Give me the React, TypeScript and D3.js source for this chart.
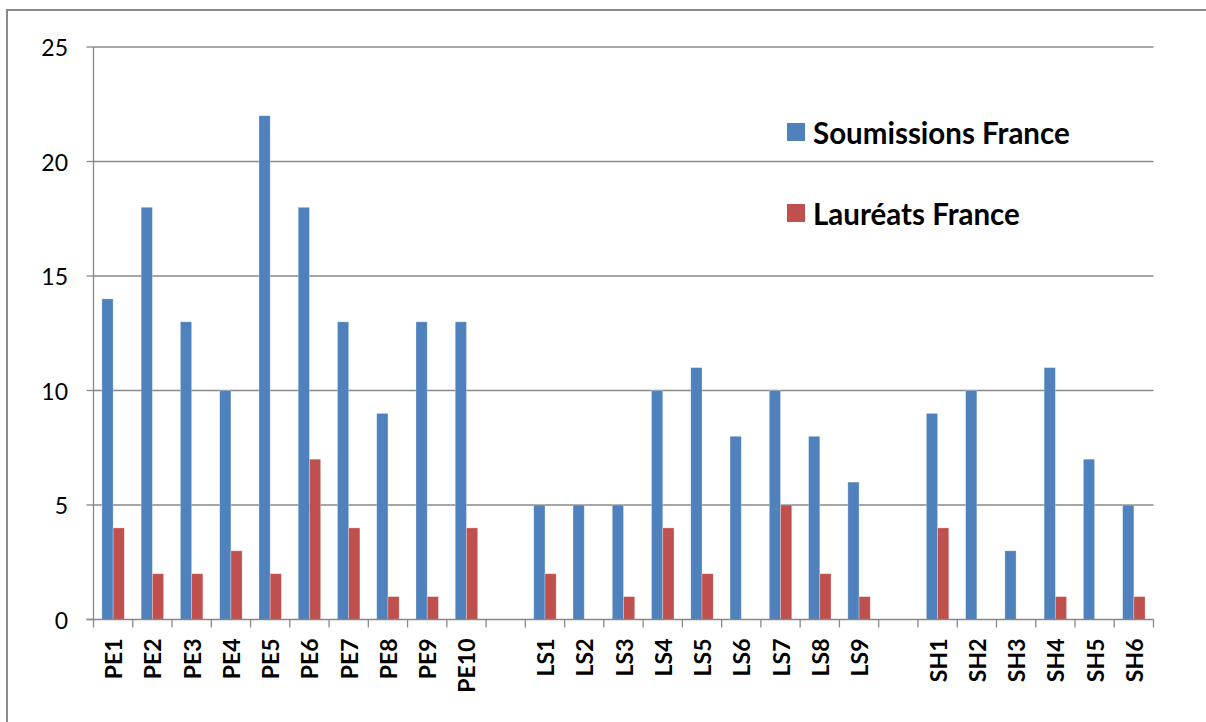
import React from 'react';
import * as d3 from 'd3';

// categories, with empty slots separating the three groups
const categories = [
  'PE1', 'PE2', 'PE3', 'PE4', 'PE5', 'PE6', 'PE7', 'PE8', 'PE9', 'PE10',
  '',
  'LS1', 'LS2', 'LS3', 'LS4', 'LS5', 'LS6', 'LS7', 'LS8', 'LS9',
  '',
  'SH1', 'SH2', 'SH3', 'SH4', 'SH5', 'SH6',
];

const soumissions = [
  14, 18, 13, 10, 22, 18, 13, 9, 13, 13,
  null,
  5, 5, 5, 10, 11, 8, 10, 8, 6,
  null,
  9, 10, 3, 11, 7, 5,
];

const laureats = [
  4, 2, 2, 3, 2, 7, 4, 1, 1, 4,
  null,
  2, 0, 1, 4, 2, 0, 5, 2, 1,
  null,
  4, 0, 0, 1, 0, 1,
];

const yTicks = [0, 5, 10, 15, 20, 25];

const series = [
  { name: 'Soumissions France', values: soumissions, color: '#4F81BD' },
  { name: 'Lauréats France', values: laureats, color: '#C0504D' },
];

const width = 1206;
const height = 722;
const margin = { top: 47, right: 52.5, bottom: 102.5, left: 93.5 };
const font = 'Lato, "Open Sans", sans-serif';
const gridColor = '#888888';

export default function App() {
  const x = d3
    .scaleBand<number>()
    .domain(categories.map((_, i) => i))
    .range([margin.left, width - margin.right]);

  const y = d3
    .scaleLinear()
    .domain([0, 25])
    .range([height - margin.bottom, margin.top]);

  const bw = x.bandwidth() / 3.5;
  const groupOffset = (x.bandwidth() - 2 * bw) / 2;

  const boundaries = d3.range(categories.length + 1).map(
    (i) => margin.left + i * x.step()
  );

  return (
    <svg
      width={width}
      height={height}
      style={{ position: 'fixed', left: 0, top: 0, background: '#fff' }}
    >
      {/* outer frame */}
      <rect x={7} y={10} width={width + 20} height={height + 20} fill="none" stroke="#898989" strokeWidth={2} />

      {/* gridlines + y labels */}
      {yTicks.map((t) => (
        <g key={t}>
          {t > 0 && (
            <line
              x1={margin.left}
              x2={width - margin.right}
              y1={y(t)}
              y2={y(t)}
              stroke={gridColor}
              strokeWidth={1.3}
            />
          )}
          <line x1={margin.left - 7} x2={margin.left} y1={y(t)} y2={y(t)} stroke={gridColor} strokeWidth={1.3} />
          <text
            x={68}
            y={y(t)}
            textAnchor="end"
            dominantBaseline="central"
            fontFamily={font}
            fontSize={23}
            fill="#000"
          >
            {t}
          </text>
        </g>
      ))}

      {/* bars */}
      {series.map((s, si) =>
        s.values.map((v, i) =>
          v == null || v === 0 ? null : (
            <rect
              key={`${si}-${i}`}
              x={(x(i) as number) + groupOffset + si * bw}
              y={y(v)}
              width={bw}
              height={y(0) - y(v)}
              fill={s.color}
              stroke="#ffffff"
              strokeOpacity={0.35}
              strokeWidth={0.8}
            />
          )
        )
      )}

      {/* axes */}
      <line x1={margin.left} x2={margin.left} y1={margin.top} y2={y(0)} stroke={gridColor} strokeWidth={1.3} />
      <line x1={margin.left - 7} x2={width - margin.right} y1={y(0)} y2={y(0)} stroke={gridColor} strokeWidth={1.3} />
      {boundaries.map((bx, i) => (
        <line key={i} x1={bx} x2={bx} y1={y(0)} y2={y(0) + 8} stroke={gridColor} strokeWidth={1.3} />
      ))}

      {/* x labels */}
      {categories.map((c, i) =>
        c ? (
          <text
            key={i}
            transform={`translate(${(x(i) as number) + x.bandwidth() / 2},${y(0) + 19}) rotate(-90)`}
            textAnchor="end"
            dominantBaseline="central"
            fontFamily={font}
            fontWeight="bold"
            fontSize={23}
            fill="#000"
          >
            {c}
          </text>
        ) : null
      )}

      {/* legend */}
      {series.map((s, si) => (
        <g key={s.name} transform={`translate(787,${123 + si * 81})`}>
          <rect width={18} height={18} fill={s.color} />
          <text
            x={26}
            y={9}
            dominantBaseline="central"
            fontFamily={font}
            fontWeight="bold"
            fontSize={29.5}
            fill="#000"
          >
            {s.name}
          </text>
        </g>
      ))}
    </svg>
  );
}
